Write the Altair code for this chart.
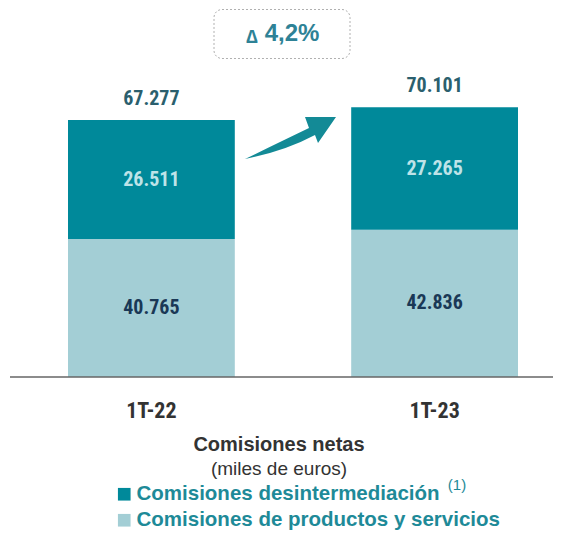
import altair as alt
import pandas as pd

periods = ["1T-22", "1T-23"]
productos = [40765, 42836]
desinter = [26511, 27265]
totals = [67277, 70101]
series_names = ["Comisiones desintermediación", "Comisiones de productos y servicios"]
delta_text = "4,2%"
axis_base = 10000  # value at which the (truncated) axis line is drawn

DARK = "#00899A"
LIGHT = "#A3CED5"
NARROW = "Liberation Sans Narrow, Arial Narrow, Roboto Condensed, sans-serif"
SANS = "Liberation Sans, Arial, sans-serif"

rows = []
for p, pr, de in zip(periods, productos, desinter):
    rows.append({"period": p, "serie": series_names[1], "y": pr, "y2": axis_base,
                 "value": pr, "mid": (pr + axis_base) / 2})
    rows.append({"period": p, "serie": series_names[0], "y": pr + de, "y2": pr,
                 "value": de, "mid": pr + de / 2})
df = pd.DataFrame(rows)
df["label"] = df["value"].map(lambda v: f"{v:,}".replace(",", "."))
tot = pd.DataFrame({"period": periods, "total": totals})
tot["label"] = tot["total"].map(lambda v: f"{v:,}".replace(",", "."))
one = pd.DataFrame({"a": [0]})

xscale = alt.Scale(domain=periods, range=[60, 510], paddingInner=0.411, paddingOuter=0)
yscale = alt.Scale(domain=[0, 80000], range=[414, 54.9])
X = alt.X("period:N", scale=xscale, axis=None)

bars = alt.Chart(df).mark_bar().encode(
    x=X,
    y=alt.Y("y:Q", scale=yscale, axis=None),
    y2="y2:Q",
    color=alt.Color("serie:N",
                    scale=alt.Scale(domain=series_names, range=[DARK, LIGHT]),
                    legend=alt.Legend(orient="none", legendX=106, legendY=476, title=None,
                                      symbolType="square", symbolSize=160, symbolStrokeWidth=0,
                                      symbolOpacity=1,
                                      labelFont=SANS, labelFontSize=20.5, labelFontWeight="bold",
                                      labelColor="#1E8A98", labelOffset=2, rowPadding=5,
                                      labelLimit=500)),
)

inner = alt.Chart(df).mark_text(font=NARROW, fontSize=20, fontWeight="bold", baseline="middle").encode(
    x=X,
    y=alt.Y("mid:Q", scale=yscale),
    text="label:N",
    color=alt.Color("serie:N", scale=alt.Scale(domain=series_names, range=["#BEE3E8", "#1A3856"]),
                    legend=None),
)

totals_t = alt.Chart(tot).mark_text(font=NARROW, fontSize=20, fontWeight="bold", baseline="middle",
                                    dy=-21, color="#2B5F6E").encode(
    x=X, y=alt.Y("total:Q", scale=yscale), text="label:N")

ticks = alt.Chart(tot).mark_text(font=NARROW, fontSize=22, fontWeight="bold", baseline="middle",
                                 color="#333333").encode(
    x=X, y=alt.value(403), text="period:N")

axis_line = alt.Chart(one).mark_rule(color="#666666", strokeWidth=1.5).encode(
    x=alt.value(2), x2=alt.value(545), y=alt.datum(axis_base, scale=yscale))

title1 = alt.Chart(one).mark_text(text="Comisiones netas", font=SANS, fontSize=20, fontWeight="bold",
                                  color="#333333", baseline="middle").encode(
    x=alt.value(271), y=alt.value(437))
title2 = alt.Chart(one).mark_text(text="(miles de euros)", font=SANS, fontSize=19,
                                  color="#333333", baseline="middle").encode(
    x=alt.value(271), y=alt.value(461))
note = alt.Chart(one).mark_text(text="(1)", font=SANS, fontSize=15, color="#1E8A98",
                                baseline="middle").encode(x=alt.value(449), y=alt.value(477))

box = alt.Chart(one).mark_rect(fill="white", stroke="#b0b0b0", strokeDash=[2, 2], strokeWidth=1,
                               cornerRadius=8).encode(
    x=alt.value(206), x2=alt.value(342), y=alt.value(1.5), y2=alt.value(50.5))
delta_sym = alt.Chart(one).mark_text(text="∆", font=SANS, fontSize=19, fontWeight="bold",
                                     color="#2E8296", baseline="middle").encode(
    x=alt.value(244), y=alt.value(29))
delta_val = alt.Chart(one).mark_text(text=delta_text, font=SANS, fontSize=24, fontWeight="bold",
                                     color="#2E8296", baseline="middle").encode(
    x=alt.value(284), y=alt.value(26))

arrow_path = ("M -45 21 Q -10 4 19 -10 L 15 -21 L 46 -21 L 28 5 L 25 -3 Q -5 13 -45 21 Z")
arrow = alt.Chart(one).mark_point(shape=arrow_path, filled=True, size=4, color="#138A96",
                                  opacity=1, strokeWidth=0).encode(
    x=alt.value(282), y=alt.value(130))

chart = alt.layer(bars, inner, totals_t, ticks, axis_line, title1, title2, note,
                  box, delta_sym, delta_val, arrow).resolve_scale(color="independent").properties(
    width=545, height=526, padding=0, autosize=alt.AutoSizeParams(type="none")
).configure_view(stroke=None)

chart.save("out.html", embed_options={"renderer": "svg", "actions": False})
